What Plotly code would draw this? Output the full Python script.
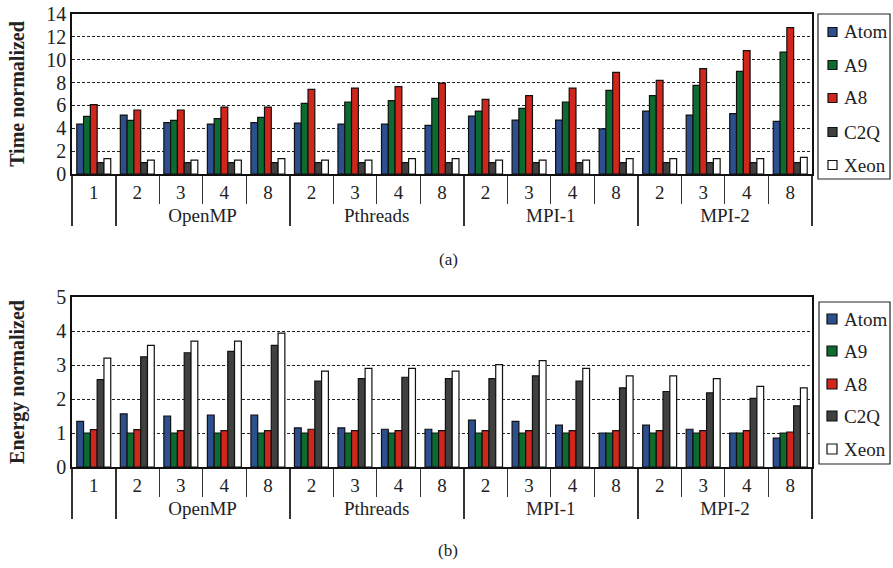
import plotly.graph_objects as go
from plotly.subplots import make_subplots

groups = ["", "OpenMP", "OpenMP", "OpenMP", "OpenMP",
          "Pthreads", "Pthreads", "Pthreads", "Pthreads",
          "MPI-1", "MPI-1", "MPI-1", "MPI-1",
          "MPI-2", "MPI-2", "MPI-2", "MPI-2"]
threads = ["1", "2", "3", "4", "8", "2", "3", "4", "8",
           "2", "3", "4", "8", "2", "3", "4", "8"]

series = ["Atom", "A9", "A8", "C2Q", "Xeon"]
colors = ["#2D4F8E", "#0E6B30", "#D1261C", "#404040", "#FFFFFF"]

time_atom = [4.37, 5.16, 4.49, 4.37, 4.49, 4.46, 4.37, 4.37, 4.26, 5.07, 4.72, 4.72, 3.94, 5.51, 5.16, 5.28, 4.61]
time_a9 = [5.05, 4.70, 4.70, 4.84, 4.96, 6.18, 6.30, 6.42, 6.62, 5.51, 5.75, 6.30, 7.32, 6.85, 7.76, 8.98, 10.67]
time_a8 = [6.07, 5.60, 5.60, 5.86, 5.86, 7.41, 7.52, 7.64, 7.96, 6.53, 6.85, 7.52, 8.90, 8.19, 9.22, 10.79, 12.80]
time_c2q = [1.0] * 17
time_xeon = [1.34, 1.22, 1.22, 1.22, 1.34, 1.22, 1.22, 1.34, 1.34, 1.22, 1.22, 1.22, 1.34, 1.34, 1.34, 1.34, 1.46]

energy_atom = [1.34, 1.56, 1.50, 1.53, 1.53, 1.15, 1.15, 1.11, 1.11, 1.38, 1.34, 1.23, 1.0, 1.23, 1.11, 1.0, 0.85]
energy_a9 = [1.0] * 17
energy_a8 = [1.10, 1.10, 1.07, 1.07, 1.07, 1.11, 1.07, 1.07, 1.07, 1.07, 1.07, 1.07, 1.07, 1.07, 1.07, 1.07, 1.03]
energy_c2q = [2.57, 3.24, 3.36, 3.40, 3.58, 2.53, 2.60, 2.64, 2.60, 2.60, 2.68, 2.53, 2.33, 2.22, 2.18, 2.02, 1.80]
energy_xeon = [3.20, 3.58, 3.70, 3.70, 3.94, 2.82, 2.90, 2.90, 2.82, 3.01, 3.13, 2.90, 2.68, 2.68, 2.60, 2.37, 2.33]

time_vals = [time_atom, time_a9, time_a8, time_c2q, time_xeon]
energy_vals = [energy_atom, energy_a9, energy_a8, energy_c2q, energy_xeon]

FONT = "Liberation Serif"

fig = make_subplots(rows=2, cols=1, vertical_spacing=0.0)

for i, name in enumerate(series):
    fig.add_trace(go.Bar(x=[groups, threads], y=time_vals[i], name=name,
                         marker=dict(color=colors[i], line=dict(color="#111111", width=1.2)),
                         showlegend=False), row=1, col=1)
for i, name in enumerate(series):
    fig.add_trace(go.Bar(x=[groups, threads], y=energy_vals[i], name=name,
                         marker=dict(color=colors[i], line=dict(color="#111111", width=1.2)),
                         showlegend=False), row=2, col=1)

H = 568
W = 893
t, b, l, r = 14, 101, 72, 81
ph = H - t - b
pw = W - l - r

def fy(py):
    return (H - b - py) / ph

def fx(px):
    return (px - l) / pw

fig.update_layout(
    width=W, height=H,
    margin=dict(l=l, r=r, t=t, b=b, autoexpand=False),
    plot_bgcolor="white", paper_bgcolor="white",
    barmode="group", bargap=0.22, bargroupgap=0.0,
    font=dict(family=FONT, size=19, color="#222222"),
    showlegend=False,
)

fig.update_layout(
    yaxis=dict(domain=[fy(174), 1.0]),
    yaxis2=dict(domain=[0.0, fy(297)]),
)

for row, (rng, dt, title, so) in enumerate([((0, 14), 2, "Time normalized", 16),
                                             ((0, 5), 1, "Energy normalized", 26)], start=1):
    fig.update_yaxes(range=list(rng), dtick=dt, showgrid=True, gridcolor="#222222",
                     griddash="3px,2px", gridwidth=1, showline=True, linecolor="#111111",
                     linewidth=1.5, ticks="", mirror=True, automargin=False,
                     title=dict(text="<b>" + title + "</b>", font=dict(size=20, family=FONT), standoff=so),
                     tickfont=dict(size=20, family=FONT), zeroline=False, row=row, col=1)
    fig.update_xaxes(showline=True, linecolor="#111111", linewidth=1.5, mirror=True,
                     ticks="outside", ticklen=28, tickcolor="#333333", automargin=False,
                     showdividers=True, dividercolor="#333333", dividerwidth=1.5,
                     tickfont=dict(size=19, family=FONT), row=row, col=1)

# legends (box, swatches, labels) in pixel-derived paper coordinates
legend_specs = [
    dict(box=(818, 14, 890, 179), sw=(828, 837), tx=842, ys=[32, 65, 98, 132, 165]),
    dict(box=(819, 302, 890, 464), sw=(827, 837), tx=842, ys=[319, 351, 384, 416, 449]),
]
for spec in legend_specs:
    x0, y0, x1, y1 = spec["box"]
    fig.add_shape(type="rect", xref="paper", yref="paper",
                  x0=fx(x0), x1=fx(x1), y0=fy(y1), y1=fy(y0),
                  line=dict(color="#222222", width=1.2), fillcolor="white")
    for name, col, yc in zip(series, colors, spec["ys"]):
        s0, s1 = spec["sw"]
        half = (s1 - s0) / 2
        fig.add_shape(type="rect", xref="paper", yref="paper",
                      x0=fx(s0), x1=fx(s1), y0=fy(yc + half), y1=fy(yc - half),
                      line=dict(color="#111111", width=1.2), fillcolor=col)
        fig.add_annotation(text=name, x=fx(spec["tx"]), y=fy(yc), xref="paper", yref="paper",
                           xanchor="left", yanchor="middle", showarrow=False,
                           font=dict(size=19, family=FONT, color="#222222"))

fig.add_annotation(text="(a)", x=fx(448), xref="paper", y=fy(259), yref="paper",
                   xanchor="center", yanchor="middle",
                   showarrow=False, font=dict(size=17, family=FONT))
fig.add_annotation(text="(b)", x=fx(448), xref="paper", y=fy(550), yref="paper",
                   xanchor="center", yanchor="middle",
                   showarrow=False, font=dict(size=17, family=FONT))

fig.write_html("out.html")
